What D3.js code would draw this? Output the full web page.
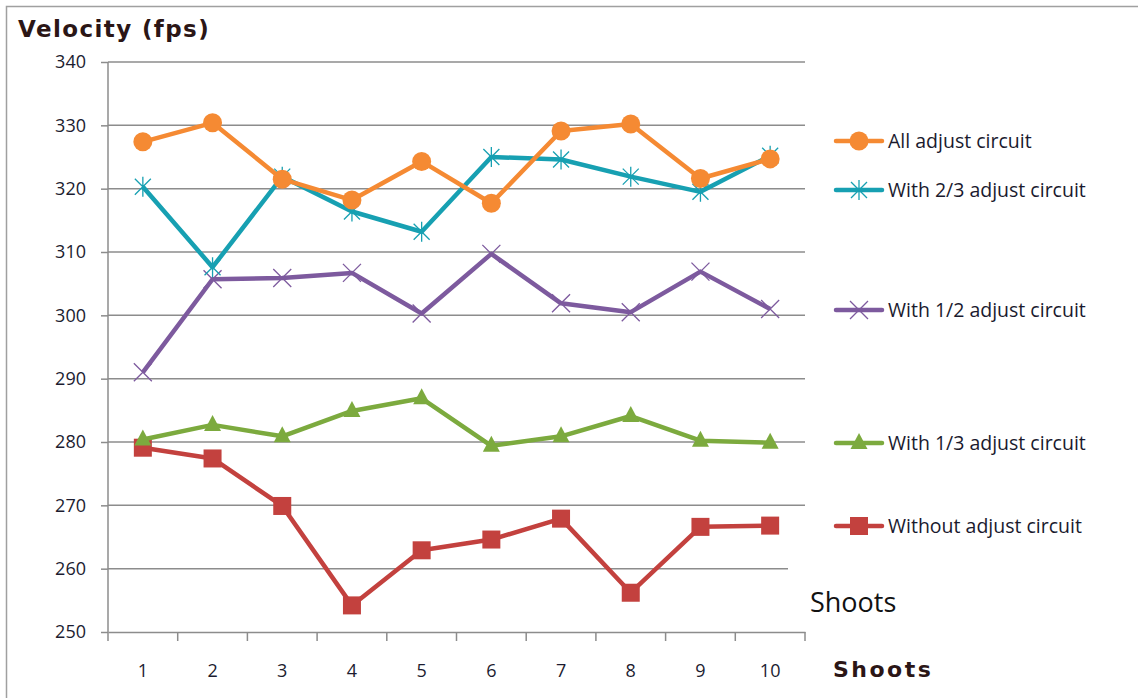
<!DOCTYPE html>
<html>
<head>
<meta charset="utf-8">
<script src="https://cdn.jsdelivr.net/npm/d3@7"></script>
<style>
  body { margin: 0; background: #fff; }
  #chart { width: 1138px; height: 698px; }
</style>
</head>
<body>
<div id="chart"></div>
<script>
// data
const shoots = [1, 2, 3, 4, 5, 6, 7, 8, 9, 10];
const yTicks = [250, 260, 270, 280, 290, 300, 310, 320, 330, 340];
const seriesNames = ["All adjust circuit", "With 2/3 adjust circuit", "With 1/2 adjust circuit", "With 1/3 adjust circuit", "Without adjust circuit"];
const allAdjust = [327.4, 330.4, 321.5, 318.2, 324.3, 317.7, 329.1, 330.2, 321.6, 324.7];
const twoThirds = [320.3, 307.6, 321.9, 316.4, 313.2, 325.0, 324.6, 321.9, 319.5, 325.2];
const oneHalf = [291.0, 305.7, 305.9, 306.7, 300.3, 309.7, 301.9, 300.5, 306.9, 301.0];
const oneThird = [280.4, 282.7, 280.9, 284.9, 286.9, 279.4, 280.9, 284.1, 280.2, 279.9];
const without = [279.1, 277.4, 269.9, 254.2, 262.9, 264.6, 267.9, 256.2, 266.6, 266.8];

function drawChart() {
    const width = 1138, height = 698;
    const margin = { top: 62, left: 108, right: 1138 - 805, bottom: 698 - 632 };
    const tickFont = "'Open Sans', sans-serif";

    const svg = d3.select("#chart").append("svg")
        .attr("width", width)
        .attr("height", height)
        .style("font-family", tickFont);

    // outer frame
    svg.append("rect")
        .attr("x", 6.5).attr("y", 6.5)
        .attr("width", width + 20).attr("height", height + 20)
        .attr("fill", "none").attr("stroke", "#a0a0a0").attr("stroke-width", 1.5);

    const x = d3.scaleBand().domain(shoots).range([margin.left, width - margin.right]);
    const y = d3.scaleLinear().domain([250, 340]).range([height - margin.bottom, margin.top]);

    // y axis ticks + labels
    const yAxis = svg.append("g")
        .attr("transform", `translate(${margin.left},0)`)
        .call(d3.axisLeft(y).tickValues(yTicks).tickSize(7).tickPadding(15));
    yAxis.attr("font-family", null).attr("font-size", null);
    yAxis.select(".domain").remove();
    yAxis.selectAll(".tick line").attr("stroke", "#8c8c8c").attr("stroke-width", 1.5);
    yAxis.selectAll(".tick text")
        .attr("fill", "#1c1c30").style("font-size", "18px");

    // gridlines
    svg.append("g").selectAll("line")
        .data(yTicks.filter(d => d > 250))
        .join("line")
        .attr("x1", margin.left).attr("x2", width - margin.right)
        .attr("y1", d => y(d)).attr("y2", d => y(d))
        .attr("stroke", "#8c8c8c").attr("stroke-width", 1.5);

    svg.append("line")
        .attr("x1", margin.left).attr("x2", margin.left)
        .attr("y1", y(340)).attr("y2", y(250))
        .attr("stroke", "#8c8c8c").attr("stroke-width", 1.5);

    const xAxis = svg.append("g")
        .attr("transform", `translate(0,${y(250)})`)
        .call(d3.axisBottom(x).tickSize(0).tickPadding(32));
    xAxis.attr("font-family", null).attr("font-size", null);
    xAxis.select(".domain").attr("stroke", "#8c8c8c").attr("stroke-width", 1.5);
    xAxis.selectAll(".tick text")
        .attr("fill", "#1c1c30").style("font-size", "18px");

    // category separators below the axis
    const edges = shoots.map(d => x(d)).concat([x.range()[1]]);
    svg.append("g").selectAll("line")
        .data(edges)
        .join("line")
        .attr("x1", d => d).attr("x2", d => d)
        .attr("y1", y(250)).attr("y2", y(250) + 9)
        .attr("stroke", "#8c8c8c").attr("stroke-width", 1.5);

    // "Shoots" text box covering the end of the 260 gridline
    svg.append("rect")
        .attr("x", 788).attr("y", 566)
        .attr("width", 120).attr("height", 60)
        .attr("fill", "#fff");
    svg.append("text")
        .attr("x", 810).attr("y", 612)
        .text("Shoots")
        .style("font-size", "27px")
        .attr("fill", "#111");

    // titles
    svg.append("text")
        .attr("x", 18).attr("y", 37)
        .text("Velocity (fps)")
        .style("font-family", "DejaVu Sans")
        .style("font-weight", "bold")
        .style("font-size", "23px")
        .style("letter-spacing", "1.4px")
        .attr("fill", "#2b1616");

    svg.append("text")
        .attr("x", 833).attr("y", 677)
        .text("Shoots")
        .style("font-family", "DejaVu Sans")
        .style("font-weight", "bold")
        .style("font-size", "22px")
        .style("letter-spacing", "2.5px")
        .attr("fill", "#2b1616");

    const series = [
        { name: seriesNames[4], values: without, color: "#c3413e", marker: "square", legendY: 526 },
        { name: seriesNames[3], values: oneThird, color: "#7caa3e", marker: "triangle", legendY: 443 },
        { name: seriesNames[2], values: oneHalf, color: "#7d5a9e", marker: "cross", legendY: 310 },
        { name: seriesNames[1], values: twoThirds, color: "#17a0b2", marker: "star", legendY: 190 },
        { name: seriesNames[0], values: allAdjust, color: "#f58a33", marker: "circle", legendY: 141 }
    ];

    const cx = d => x(d) + x.bandwidth() / 2;

    function drawMarker(g, type, color) {
        if (type === "circle") {
            g.append("circle").attr("r", 9.5).attr("fill", color);
        } else if (type === "square") {
            g.append("rect").attr("x", -9).attr("y", -9).attr("width", 18).attr("height", 18).attr("fill", color);
        } else if (type === "triangle") {
            g.append("path").attr("d", "M0,-10L8.5,6L-8.5,6Z").attr("fill", color);
        } else if (type === "cross") {
            g.append("path").attr("d", "M-9,-9L9,9M-9,9L9,-9")
                .attr("stroke", color).attr("stroke-width", 1.3).attr("fill", "none");
        } else if (type === "star") {
            g.append("path").attr("d", "M-8,-8L8,8M-8,8L8,-8M0,-10L0,10")
                .attr("stroke", color).attr("stroke-width", 1.3).attr("fill", "none");
        }
    }

    const line = d3.line().x((d, i) => cx(shoots[i])).y(d => y(d));

    series.forEach(s => {
        svg.append("path")
            .datum(s.values)
            .attr("d", line)
            .attr("fill", "none")
            .attr("stroke", s.color)
            .attr("stroke-width", 4.5)
            .attr("stroke-linejoin", "round");

        s.values.forEach((v, i) => {
            const g = svg.append("g").attr("transform", `translate(${cx(shoots[i])},${y(v)})`);
            drawMarker(g, s.marker, s.color);
        });

        // legend
        const lg = svg.append("g").attr("transform", `translate(836,${s.legendY})`);
        lg.append("line").attr("x1", 0).attr("x2", 46)
            .attr("stroke", s.color).attr("stroke-width", 4.5).attr("stroke-linecap", "round");
        const mk = lg.append("g").attr("transform", "translate(23,0)");
        drawMarker(mk, s.marker, s.color);
        lg.append("text")
            .attr("x", 52).attr("y", 0).attr("dy", "0.35em")
            .text(s.name)
            .style("font-size", "19.5px")
            .attr("fill", "#1a1a2e");
    });
}

drawChart();
</script>
</body>
</html>
